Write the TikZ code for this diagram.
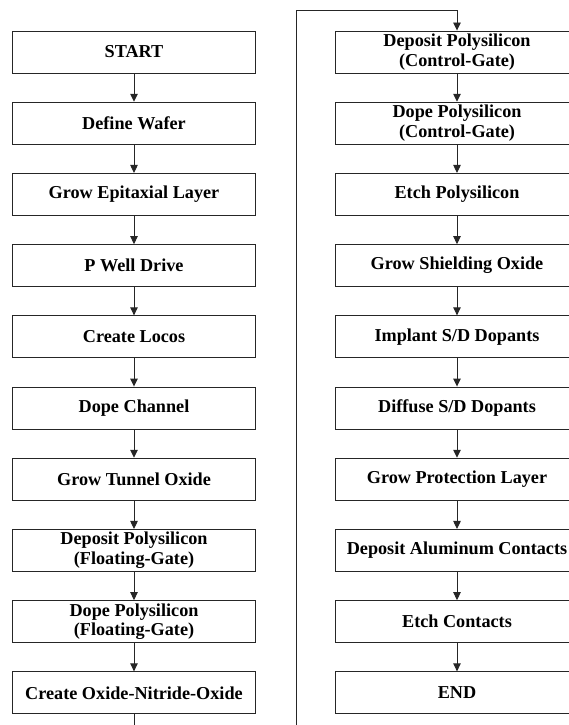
\documentclass[tikz,border=0pt]{standalone}
\usepackage{fontspec}
\setmainfont{Liberation Serif}
\usetikzlibrary{arrows.meta}
\begin{document}
\begin{tikzpicture}[x=1pt,y=-1pt,
  stepbox/.style={draw=black!85, line width=0.9pt, minimum width=242.6pt, minimum height=42pt,
    inner sep=0pt, align=center, font=\fontsize{18.2}{19.5}\selectfont\bfseries},
  flow/.style={draw=black!85, line width=0.9pt, -{Triangle[length=8pt,width=7.5pt]}}]
\useasboundingbox (0,0) rectangle (569,725);
\def\pitch{71.2}
% left column
\foreach \name/\txt [count=\i from 0] in {
  l0/START, l1/Define Wafer, l2/Grow Epitaxial Layer, l3/P Well Drive, l4/Create Locos,
  l5/Dope Channel, l6/Grow Tunnel Oxide, l7/{Deposit Polysilicon\\(Floating-Gate)},
  l8/{Dope Polysilicon\\(Floating-Gate)}, l9/Create Oxide-Nitride-Oxide}
  \node[stepbox] (\name) at (134, 52+\pitch*\i) {\txt};
% right column
\foreach \name/\txt [count=\i from 0] in {
  r0/{Deposit Polysilicon\\(Control-Gate)}, r1/{Dope Polysilicon\\(Control-Gate)},
  r2/Etch Polysilicon, r3/Grow Shielding Oxide, r4/{Implant S/D Dopants},
  r5/{Diffuse S/D Dopants}, r6/Grow Protection Layer, r7/Deposit Aluminum Contacts,
  r8/Etch Contacts, r9/END}
  \node[stepbox] (\name) at (457, 52+\pitch*\i) {\txt};
\foreach \a/\b in {l0/l1,l1/l2,l2/l3,l3/l4,l4/l5,l5/l6,l6/l7,l7/l8,l8/l9,
                   r0/r1,r1/r2,r2/r3,r3/r4,r4/r5,r5/r6,r6/r7,r7/r8,r8/r9}
  \draw[flow] (\a.south) -- (\b.north);
\coordinate (b1) at (134, 745);
\coordinate (b2) at (296, 745);
\coordinate (t1) at (296, 10.7);
\coordinate (t2) at (457, 10.7);
\draw[flow] (l9.south) -- (b1) -- (b2) -- (t1) -- (t2) -- (r0.north);
\end{tikzpicture}
\end{document}
